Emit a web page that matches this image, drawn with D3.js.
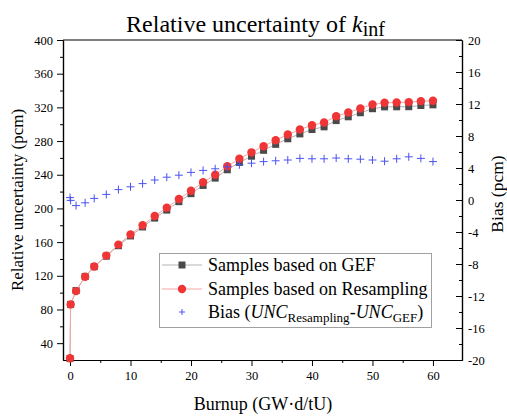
<!DOCTYPE html>
<html>
<head>
<meta charset="utf-8">
<script src="https://cdn.jsdelivr.net/npm/d3@7/dist/d3.min.js"></script>
<style>
  html, body { margin: 0; padding: 0; background: #fff; }
  svg { display: block; font-family: "Liberation Serif", "Times New Roman", serif; }
</style>
</head>
<body>
<svg id="chart" width="507" height="416"></svg>
<script>
// ---- data ----
const burnup = [0, 0.1, 1, 2.5, 4, 6, 8, 10, 12, 14, 16, 18, 20, 22, 24, 26, 28, 30,
  32, 34, 36, 38, 40, 42, 44, 46, 48, 50, 52, 54, 56, 58, 60];
const uncGEF = [21.7, 86, 102.5, 119.2, 130.8, 143.3, 155.7, 167.3, 178, 188.5, 198, 208,
  217.5, 227.3, 236, 245.9, 254.6, 262, 269, 276.1, 282.7, 288.5, 293.7, 296.9, 304.3,
  308.8, 313.6, 318.4, 320.6, 320.7, 320.8, 322.2, 323];
const uncResampling = [22, 86, 101.8, 118.9, 131, 144, 157, 169, 180, 191, 200.9, 211.1,
  221, 231, 239.9, 250, 259, 266.6, 273.8, 281, 287.7, 293.7, 298.8, 302, 309.5, 313.9,
  318.7, 323.4, 325.4, 325.8, 326.2, 327.4, 327.8];
const bias = [0.3, -0.05, -0.7, -0.35, 0.2, 0.7, 1.3, 1.65, 2.05, 2.5, 2.85, 3.1, 3.45,
  3.7, 3.9, 4.15, 4.4, 4.6, 4.8, 4.9, 5.0, 5.2, 5.15, 5.15, 5.25, 5.15, 5.1, 5.0, 4.85,
  5.15, 5.4, 5.2, 4.8];
const xTicks = [0, 10, 20, 30, 40, 50, 60];
const xMinorTicks = [5, 15, 25, 35, 45, 55];
const yLeftTicks = [40, 80, 120, 160, 200, 240, 280, 320, 360, 400];
const yLeftMinor = [60, 100, 140, 180, 220, 260, 300, 340, 380];
const yRightTicks = [-20, -16, -12, -8, -4, 0, 4, 8, 12, 16, 20];
const yRightMinor = [-18, -14, -10, -6, -2, 2, 6, 10, 14, 18];
const legendLabels = ["Samples based on GEF", "Samples based on Resampling"];

// ---- layout ----
const L = 63, R = 462, T = 40, B = 360;
const svg = d3.select("#chart");
const x = d3.scaleLinear().domain([-1.16, 64.8]).range([L, R]);
const yL = d3.scaleLinear().domain([20, 400]).range([B, T]);
const yR = d3.scaleLinear().domain([-20, 20]).range([B, T]);
const plain = d => String(d);

const tickFont = "12.5px";
function styleAxis(g) {
  g.attr("font-family", null).attr("font-size", null);
  g.selectAll("path.domain").attr("stroke", "#000").attr("stroke-width", 1.2);
  g.selectAll(".tick line").attr("stroke", "#000").attr("stroke-width", 1);
  g.selectAll(".tick text").attr("fill", "#000").style("font-size", tickFont)
    .style("font-family", '"Liberation Serif", serif');
}

// top frame line
svg.append("line").attr("x1", L).attr("x2", R).attr("y1", T).attr("y2", T)
  .attr("stroke", "#000").attr("stroke-width", 1.2);

// bottom axis (ticks outward)
svg.append("g").attr("transform", `translate(0,${B})`)
  .call(d3.axisBottom(x).tickValues(xMinorTicks).tickSize(3).tickSizeOuter(0).tickFormat(""))
  .call(styleAxis);
svg.append("g").attr("transform", `translate(0,${B})`)
  .call(d3.axisBottom(x).tickValues(xTicks).tickSize(6).tickSizeOuter(0).tickPadding(5).tickFormat(plain))
  .call(styleAxis);

// left axis (ticks outward)
svg.append("g").attr("transform", `translate(${L},0)`)
  .call(d3.axisLeft(yL).tickValues(yLeftMinor).tickSize(3).tickSizeOuter(0).tickFormat(""))
  .call(styleAxis);
svg.append("g").attr("transform", `translate(${L},0)`)
  .call(d3.axisLeft(yL).tickValues(yLeftTicks).tickSize(6).tickSizeOuter(0).tickPadding(4).tickFormat(plain))
  .call(styleAxis);

// right axis (ticks inward)
svg.append("g").attr("transform", `translate(${R},0)`)
  .call(d3.axisRight(yR).tickValues(yRightMinor).tickSizeInner(-3).tickSizeOuter(0).tickFormat(""))
  .call(styleAxis);
svg.append("g").attr("transform", `translate(${R},0)`)
  .call(d3.axisRight(yR).tickValues(yRightTicks).tickSizeInner(-6).tickSizeOuter(0).tickPadding(6).tickFormat(plain))
  .call(styleAxis);

// series
const idx = d3.range(burnup.length);
const lineL = arr => d3.line().x(i => x(burnup[i])).y(i => yL(arr[i]));

const cGrayLine = "#b4b4b4", cGray = "#4a4a4a";
const cRedLine = "#f6a5a5", cRed = "#ef3535";
const cBlue = "#4a52f2";

svg.append("path").datum(idx).attr("d", lineL(uncGEF))
  .attr("fill", "none").attr("stroke", cGrayLine).attr("stroke-width", 1);
svg.append("g").selectAll("rect").data(idx).join("rect")
  .attr("x", i => x(burnup[i]) - 3.5).attr("y", i => yL(uncGEF[i]) - 3.5)
  .attr("width", 7).attr("height", 7).attr("fill", cGray);

svg.append("path").datum(idx).attr("d", lineL(uncResampling))
  .attr("fill", "none").attr("stroke", cRedLine).attr("stroke-width", 1);
svg.append("g").selectAll("circle").data(idx).join("circle")
  .attr("cx", i => x(burnup[i])).attr("cy", i => yL(uncResampling[i]))
  .attr("r", 4.2).attr("fill", cRed);

const cs = 4;
svg.append("g").selectAll("path").data(idx).join("path")
  .attr("d", i => {
    const cx = x(burnup[i]), cy = yR(bias[i]);
    return `M${cx - cs},${cy}H${cx + cs}M${cx},${cy - cs}V${cy + cs}`;
  })
  .attr("stroke", cBlue).attr("stroke-width", 1).attr("fill", "none");

// titles
const title = svg.append("text").attr("x", 255.5).attr("y", 32)
  .attr("text-anchor", "middle").style("font-size", "24px").attr("fill", "#000");
title.append("tspan").text("Relative uncertainty of ");
title.append("tspan").style("font-style", "italic").text("k");
title.append("tspan").attr("dy", 4).style("font-size", "20px").text("inf");

svg.append("text").attr("x", 263).attr("y", 410).attr("text-anchor", "middle")
  .style("font-size", "18px").attr("fill", "#000").text("Burnup (GW\u00B7d/tU)");

svg.append("text").attr("transform", `translate(23,200) rotate(-90)`)
  .attr("text-anchor", "middle").style("font-size", "17px").attr("fill", "#000")
  .text("Relative uncertainty (pcm)");

svg.append("text").attr("transform", `translate(503,194) rotate(-90)`)
  .attr("text-anchor", "middle").style("font-size", "17.5px").attr("fill", "#000")
  .text("Bias (pcm)");

// legend
const lg = svg.append("g");
lg.append("rect").attr("x", 159.5).attr("y", 253.5).attr("width", 272).attr("height", 74)
  .attr("fill", "#fff").attr("stroke", "#a0a0a0").attr("stroke-width", 1);
const rowY = [265, 289, 312];
const sx0 = 162, sx1 = 202, sxm = 182, tx = 208;
// row 1
lg.append("line").attr("x1", sx0).attr("x2", sx1).attr("y1", rowY[0]).attr("y2", rowY[0])
  .attr("stroke", cGrayLine);
lg.append("rect").attr("x", sxm - 3.5).attr("y", rowY[0] - 3.5).attr("width", 7).attr("height", 7)
  .attr("fill", cGray);
// row 2
lg.append("line").attr("x1", sx0).attr("x2", sx1).attr("y1", rowY[1]).attr("y2", rowY[1])
  .attr("stroke", cRedLine);
lg.append("circle").attr("cx", sxm).attr("cy", rowY[1]).attr("r", 4.2).attr("fill", cRed);
// row 3
lg.append("path")
  .attr("d", `M${sxm - 3},${rowY[2]}H${sxm + 3}M${sxm},${rowY[2] - 3}V${rowY[2] + 3}`)
  .attr("stroke", cBlue).attr("stroke-width", 1);

legendLabels.forEach((t, i) => {
  lg.append("text").attr("x", tx).attr("y", rowY[i] + 6).style("font-size", "18px")
    .attr("fill", "#000").text(t);
});
const t3 = lg.append("text").attr("x", tx).attr("y", rowY[2] + 6)
  .style("font-size", "18px").attr("fill", "#000");
t3.append("tspan").text("Bias (");
t3.append("tspan").style("font-style", "italic").text("UNC");
t3.append("tspan").attr("dy", 4).style("font-size", "13px").text("Resampling");
t3.append("tspan").attr("dy", -4).text("-");
t3.append("tspan").style("font-style", "italic").text("UNC");
t3.append("tspan").attr("dy", 4).style("font-size", "13px").text("GEF");
t3.append("tspan").attr("dy", -4).text(")");
</script>
</body>
</html>
